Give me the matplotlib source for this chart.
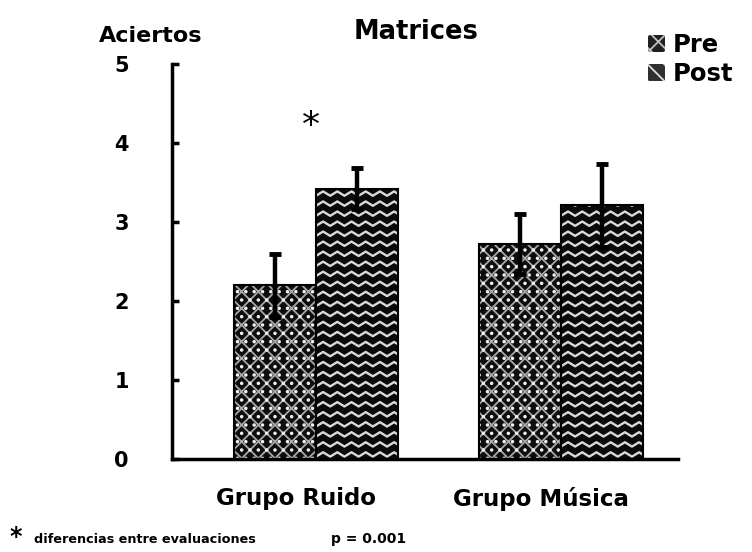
import numpy as np
import matplotlib
matplotlib.use("Agg")
import matplotlib.pyplot as plt
from matplotlib.patches import Patch
from matplotlib.transforms import ScaledTranslation

groups = ["Grupo Ruido", "Grupo Música"]
series = ["Pre", "Post"]
pre_means = [2.2, 2.72]
post_means = [3.42, 3.21]
pre_err = [0.4, 0.38]
post_err = [0.26, 0.53]

plt.rcParams['font.family'] = ['DejaVu Sans']
plt.rcParams['font.weight'] = 'bold'
plt.rcParams['hatch.linewidth'] = 1.3


def zigzag_fill(ax, bar, color='#dadada'):
    # wavy texture clipped to the bar rectangle
    x0, y0 = bar.get_x(), bar.get_y()
    w, h = bar.get_width(), bar.get_height()
    period, amp, step = 0.058, 0.055, 0.127
    xs = np.arange(x0 - period, x0 + w + period, period / 2)
    offs = np.where(np.arange(len(xs)) % 2 == 0, 0, amp)
    for yb in np.arange(y0 + 0.03, y0 + h + step, step):
        ln, = ax.plot(xs, yb + offs, color=color, lw=1.7, zorder=3)
        ln.set_clip_path(bar)


fig = plt.figure(figsize=(7.52, 5.52), dpi=100)
ax = fig.add_axes([0.2287, 0.1685, 0.6729, 0.7156])

x = np.arange(len(groups))
w = 0.335
pre_bars = ax.bar(x - w / 2, pre_means, w, color='#0d0d0d', edgecolor='#a8a8a8',
                  hatch='xx', linewidth=0, zorder=2)
ax.bar(x - w / 2, pre_means, w, color='none', edgecolor='#f0f0f0',
       hatch='..', linewidth=0, zorder=2)
post_bars = ax.bar(x + w / 2, post_means, w, color='#0a0a0a', linewidth=0, zorder=2)
for b in post_bars:
    zigzag_fill(ax, b)
# outlines
ax.bar(x - w / 2, pre_means, w, fill=False, edgecolor='black', linewidth=1.5, zorder=4)
ax.bar(x + w / 2, post_means, w, fill=False, edgecolor='black', linewidth=1.5, zorder=4)

ax.errorbar(x - w / 2, pre_means, yerr=pre_err, fmt='none', ecolor='black',
            elinewidth=3.2, capsize=4, capthick=3.5, zorder=5)
ax.errorbar(x + w / 2, post_means, yerr=post_err, fmt='none', ecolor='black',
            elinewidth=3.2, capsize=4, capthick=3.5, zorder=5)

ax.set_xlim(-0.588, 1.478)
ax.set_ylim(0, 5)
ax.set_yticks(range(6))
ax.set_yticklabels([str(i) for i in range(6)], fontsize=15, fontweight='bold')
ax.tick_params(axis='y', direction='in', length=5, width=2.5, pad=31)
ax.set_xticks(x)
ax.set_xticklabels(groups, fontsize=16.5, fontweight='bold')
ax.tick_params(axis='x', length=0, pad=20)
for lab in ax.get_xticklabels():
    lab.set_transform(lab.get_transform() + ScaledTranslation(-0.2, 0, fig.dpi_scale_trans))
for side in ['top', 'right']:
    ax.spines[side].set_visible(False)
ax.spines['left'].set_linewidth(2.5)
ax.spines['bottom'].set_linewidth(2.5)

# significance marker
ax.text(x[0] - 0.02, 4.22, "*", fontsize=26, fontweight='normal', ha='center', va='center')

fig.text(0.2, 0.935, "Aciertos", fontsize=16, ha='center', va='center')
fig.text(0.553, 0.942, "Matrices", fontsize=18.5, ha='center', va='center')

handles = [Patch(facecolor='#202020', edgecolor='#c0c0c0', hatch='xx', linewidth=0),
           Patch(facecolor='#303030', edgecolor='#e0e0e0', hatch='\\\\', linewidth=0)]
fig.legend(handles, series, loc='upper left', bbox_to_anchor=(0.845, 0.962),
           frameon=False, fontsize=17.5, handlelength=0.7, handleheight=0.7,
           handletextpad=0.35, labelspacing=0.2, borderpad=0)

fig.text(0.012, 0.006, "*", fontsize=17, ha='left', va='bottom')
fig.text(0.045, 0.011, "diferencias entre evaluaciones", fontsize=9.2, ha='left', va='bottom')
fig.text(0.44, 0.011, "p = 0.001", fontsize=10, ha='left', va='bottom')

fig.savefig("out.png", dpi=100)
